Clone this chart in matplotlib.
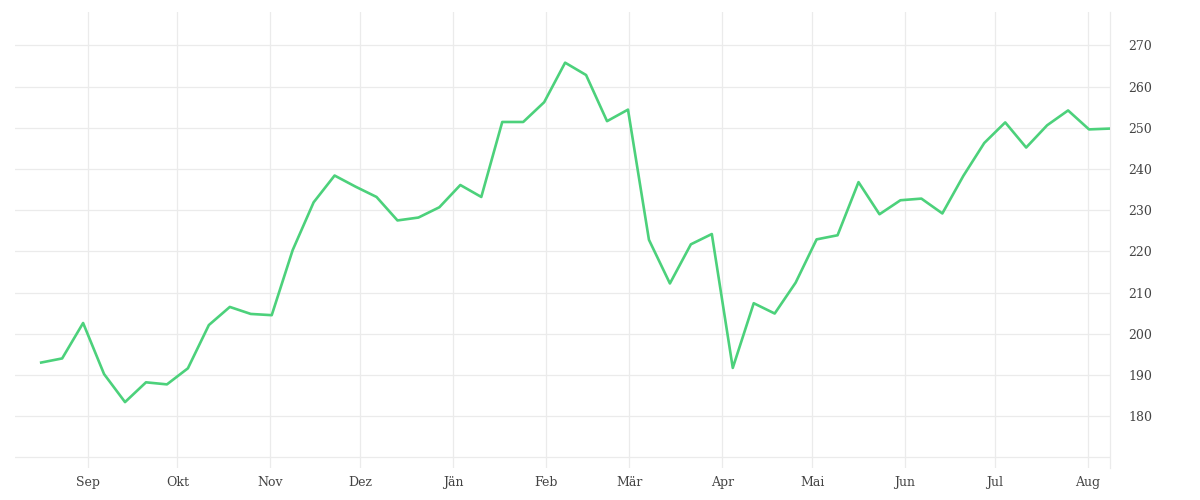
import pandas as pd
import matplotlib
matplotlib.use("Agg")
import matplotlib.pyplot as plt

# weekly observations, mid-Aug to early Aug of the following year
DATES = [
    "2022-08-16", "2022-08-23", "2022-08-30", "2022-09-06", "2022-09-13",
    "2022-09-20", "2022-09-27", "2022-10-04", "2022-10-11", "2022-10-18",
    "2022-10-25", "2022-11-01", "2022-11-08", "2022-11-15", "2022-11-22",
    "2022-11-29", "2022-12-06", "2022-12-13", "2022-12-20", "2022-12-27",
    "2023-01-03", "2023-01-10", "2023-01-17", "2023-01-24", "2023-01-31",
    "2023-02-07", "2023-02-14", "2023-02-21", "2023-02-28", "2023-03-07",
    "2023-03-14", "2023-03-21", "2023-03-28", "2023-04-04", "2023-04-11",
    "2023-04-18", "2023-04-25", "2023-05-02", "2023-05-09", "2023-05-16",
    "2023-05-23", "2023-05-30", "2023-06-06", "2023-06-13", "2023-06-20",
    "2023-06-27", "2023-07-04", "2023-07-11", "2023-07-18", "2023-07-25",
    "2023-08-01", "2023-08-08",
]
VALUES = [
    193.0, 194.0, 202.6, 190.2, 183.4, 188.2, 187.7, 191.6, 202.1, 206.5,
    204.8, 204.5, 220.3, 231.9, 238.4, 235.7, 233.2, 227.5, 228.2, 230.7,
    236.1, 233.2, 251.4, 251.4, 256.2, 265.8, 262.8, 251.6, 254.4, 222.8,
    212.2, 221.7, 224.2, 191.7, 207.4, 204.9, 212.4, 222.9, 223.9, 236.8,
    229.0, 232.4, 232.8, 229.2, 238.3, 246.3, 251.3, 245.2, 250.6, 254.2,
    249.6, 249.8,
]
MONTH_LABELS = ["Sep", "Okt", "Nov", "Dez", "Jän", "Feb", "Mär",
                "Apr", "Mai", "Jun", "Jul", "Aug"]
MONTH_STARTS = ["2022-09-01", "2022-10-01", "2022-11-01", "2022-12-01",
                "2023-01-01", "2023-02-01", "2023-03-01", "2023-04-01",
                "2023-05-01", "2023-06-01", "2023-07-01", "2023-08-01"]
Y_TICKS = [170, 180, 190, 200, 210, 220, 230, 240, 250, 260, 270]

GRID = "#ebebeb"
TEXT = "#444444"
LINE = "#4cd17b"

plt.rcParams["font.family"] = ["DejaVu Serif"]

# sample times sit about half a day later than midnight in the reference
dates = pd.to_datetime(DATES) + pd.Timedelta(hours=12)

fig = plt.figure(figsize=(12, 5), dpi=100)
ax = fig.add_axes([0.0125, 0.064, 0.9125, 0.912])

ax.plot(dates, VALUES, color=LINE, linewidth=1.9, zorder=3)

ax.set_xlim(pd.Timestamp("2022-08-07 18:00"), dates[-1])
ax.set_ylim(167.4, 278.1)

ax.set_xticks(pd.to_datetime(MONTH_STARTS))
ax.set_xticklabels(MONTH_LABELS)
ax.set_yticks(Y_TICKS)
ax.set_yticklabels(["" if t == 170 else str(t) for t in Y_TICKS])

ax.yaxis.tick_right()
ax.tick_params(axis="both", length=0, labelsize=9, labelcolor=TEXT)
ax.tick_params(axis="y", pad=13)
ax.tick_params(axis="x", pad=6)

ax.grid(True, color=GRID, linewidth=0.9, zorder=0)
ax.set_axisbelow(True)
for side in ["top", "left", "bottom"]:
    ax.spines[side].set_visible(False)
ax.spines["right"].set_color(GRID)
ax.spines["right"].set_linewidth(0.9)

fig.savefig("out.png", dpi=100, facecolor="white")
